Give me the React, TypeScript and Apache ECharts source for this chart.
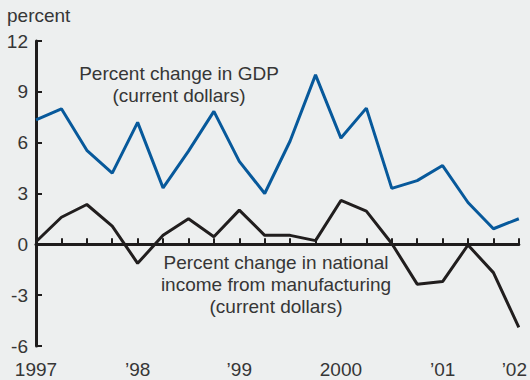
import React, { useEffect, useRef } from "react";
import * as echarts from "echarts";

const quarters = [
  "1997Q1", "1997Q2", "1997Q3", "1997Q4",
  "1998Q1", "1998Q2", "1998Q3", "1998Q4",
  "1999Q1", "1999Q2", "1999Q3", "1999Q4",
  "2000Q1", "2000Q2", "2000Q3", "2000Q4",
  "2001Q1", "2001Q2", "2001Q3", "2001Q4",
];
const tickLabels: Record<number, string> = {
  0: "1997", 4: "’98", 8: "’99", 12: "2000", 16: "’01", 19: "’02",
};
const gdp = [7.35, 8.0, 5.55, 4.2, 7.2, 3.33, 5.5, 7.85, 4.9, 3.0, 6.1, 10.0, 6.27, 8.04, 3.3, 3.76, 4.65, 2.47, 0.92, 1.51];
const manufacturing = [0.15, 1.6, 2.35, 1.08, -1.12, 0.53, 1.51, 0.45, 2.02, 0.53, 0.53, 0.22, 2.59, 1.96, 0.05, -2.35, -2.2, -0.04, -1.67, -4.9];
const yMin = -6;
const yMax = 12;
const yStep = 3;

const FONT = "Liberation Sans, Arial, sans-serif";
const TEXT = "#363636";

export default function App() {
  const ref = useRef<HTMLDivElement>(null);
  useEffect(() => {
    document.body.style.margin = "0";
    const chart = echarts.init(ref.current!, null, { renderer: "svg" });
    chart.setOption({
      animation: false,
      backgroundColor: "#edefef",
      grid: { left: 36, right: 10, top: 41, bottom: 34, containLabel: false },
      xAxis: {
        type: "category",
        data: quarters,
        boundaryGap: false,
        axisLine: { lineStyle: { color: "#1e1c1c", width: 3 } },
        axisTick: { inside: true, length: 6, interval: 0, lineStyle: { color: "#1e1c1c", width: 2 } },
        axisLabel: {
          interval: 0,
          margin: 14,
          color: TEXT,
          fontFamily: FONT,
          fontSize: 19,
          formatter: (_v: string, i: number) => {
            const t = tickLabels[i];
            if (!t) return "";
            return i === quarters.length - 1 ? `{e|${t}}` : t;
          },
          rich: { e: { padding: [0, 9, 0, 0], color: TEXT, fontFamily: FONT, fontSize: 19 } },
        },
        splitLine: { show: false },
      },
      yAxis: {
        type: "value",
        min: yMin,
        max: yMax,
        interval: yStep,
        axisLine: { show: true, lineStyle: { color: "#1e1c1c", width: 3 } },
        axisTick: { show: true, inside: true, length: 6, lineStyle: { color: "#1e1c1c", width: 2 } },
        axisLabel: { margin: 8, color: TEXT, fontFamily: FONT, fontSize: 19 },
        splitLine: { show: false },
      },
      series: [
        {
          type: "line",
          data: gdp,
          symbol: "none",
          lineStyle: { color: "#07599b", width: 3 },
        },
        {
          type: "line",
          data: manufacturing,
          symbol: "none",
          lineStyle: { color: "#211e1e", width: 3 },
        },
      ],
      graphic: [
        { type: "text", left: 7, top: 6, style: { text: "percent", fill: TEXT, font: `19px ${FONT}` } },
        { type: "text", x: 179, y: 73, style: { text: "Percent change in GDP", fill: TEXT, font: `19px ${FONT}`, textAlign: "center", textVerticalAlign: "middle" } },
        { type: "text", x: 179, y: 95, style: { text: "(current dollars)", fill: TEXT, font: `19px ${FONT}`, textAlign: "center", textVerticalAlign: "middle" } },
        { type: "text", x: 276, y: 262, style: { text: "Percent change in national", fill: TEXT, font: `19px ${FONT}`, textAlign: "center", textVerticalAlign: "middle" } },
        { type: "text", x: 276, y: 284, style: { text: "income from manufacturing", fill: TEXT, font: `19px ${FONT}`, textAlign: "center", textVerticalAlign: "middle" } },
        { type: "text", x: 276, y: 306, style: { text: "(current dollars)", fill: TEXT, font: `19px ${FONT}`, textAlign: "center", textVerticalAlign: "middle" } },
      ],
    });
    return () => chart.dispose();
  }, []);
  return <div ref={ref} style={{ position: "absolute", left: 0, top: 0, width: 530, height: 380 }} />;
}
